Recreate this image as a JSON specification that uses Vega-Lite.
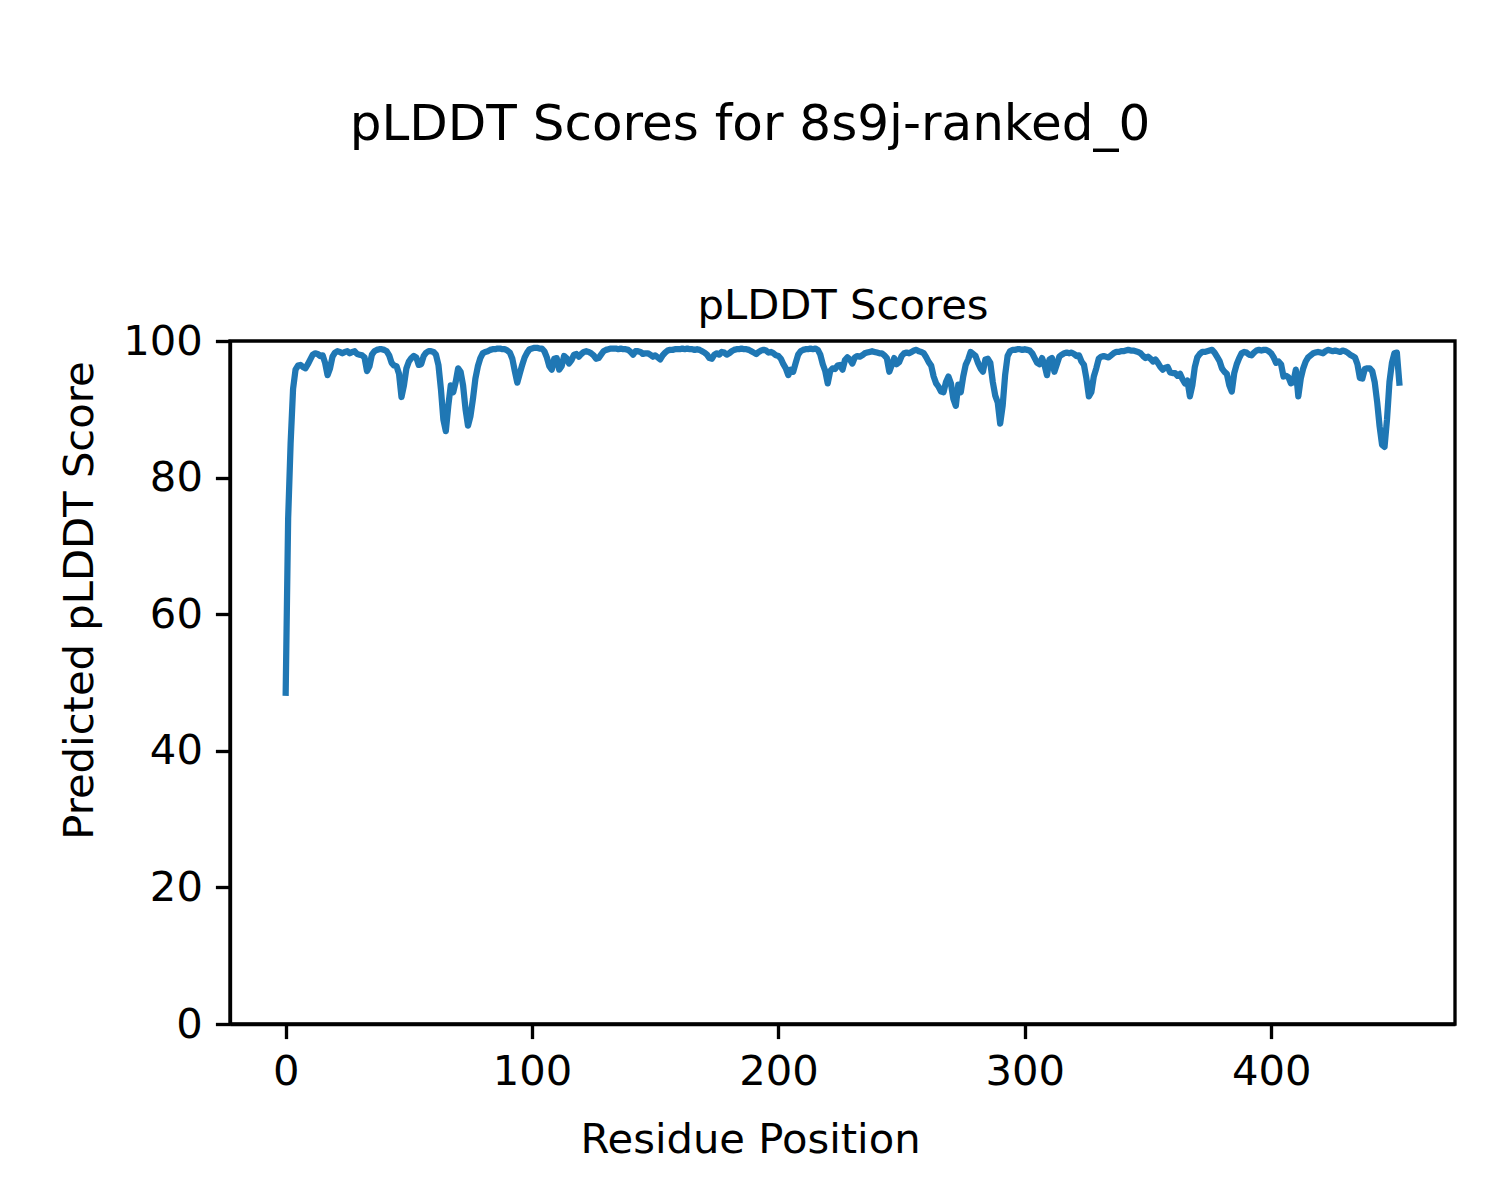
{
"$schema": "https://vega.github.io/schema/vega-lite/v6.json",
"width": 1225, "height": 683,
"autosize": "none",
"padding": {"left": 230, "top": 341, "right": 45, "bottom": 176},
"background": "white",
"title": {"text": "pLDDT Scores for 8s9j-ranked_0", "anchor": "middle", "dx": -92.5, "fontSize": 50, "font": "DejaVu Sans", "fontWeight": "normal", "color": "black", "baseline": "alphabetic", "offset": 95},
"config": {
 "view": {"stroke": "black", "strokeWidth": 3.33},
 "axis": {"labelFont": "DejaVu Sans", "labelFontSize": 41.7, "labelColor": "black", "titleFont": "DejaVu Sans", "titleFontSize": 41.7, "titleFontWeight": "normal", "titleColor": "black", "tickColor": "black", "tickWidth": 3.33, "tickSize": 14.6, "domainColor": "black", "domainWidth": 3.33, "grid": false, "labelFlush": false, "labelOverlap": false}
},
"data": {"values": [
{"x":0,"y":48.5},{"x":1,"y":74},{"x":2,"y":85},{"x":3,"y":93},{"x":4,"y":95.8},{"x":5,"y":96.4},{"x":6,"y":96.5},{"x":7,"y":96.2},{"x":8,"y":96.0},{"x":9,"y":96.6},
{"x":10,"y":97.3},{"x":11,"y":98.0},{"x":12,"y":98.2},{"x":13,"y":98.1},{"x":14,"y":97.8},{"x":15,"y":97.9},{"x":16,"y":96.8},{"x":17,"y":95.0},{"x":18,"y":96.0},{"x":19,"y":97.7},
{"x":20,"y":98.3},{"x":21,"y":98.5},{"x":22,"y":98.4},{"x":23,"y":98.2},{"x":24,"y":98.4},{"x":25,"y":98.5},{"x":26,"y":98.2},{"x":27,"y":98.4},{"x":28,"y":98.5},{"x":29,"y":98.1},
{"x":30,"y":98.0},{"x":31,"y":97.9},{"x":32,"y":97.6},{"x":33,"y":95.6},{"x":34,"y":96.3},{"x":35,"y":98.0},{"x":36,"y":98.5},{"x":37,"y":98.7},{"x":38,"y":98.8},{"x":39,"y":98.8},
{"x":40,"y":98.7},{"x":41,"y":98.5},{"x":42,"y":97.9},{"x":43,"y":96.8},{"x":44,"y":96.4},{"x":45,"y":96.3},{"x":46,"y":95.2},{"x":47,"y":91.8},{"x":48,"y":93.5},{"x":49,"y":96.0},
{"x":50,"y":97.0},{"x":51,"y":97.5},{"x":52,"y":97.8},{"x":53,"y":97.6},{"x":54,"y":96.5},{"x":55,"y":96.6},{"x":56,"y":97.8},{"x":57,"y":98.3},{"x":58,"y":98.5},{"x":59,"y":98.5},
{"x":60,"y":98.4},{"x":61,"y":98.0},{"x":62,"y":96.5},{"x":63,"y":93.0},{"x":64,"y":88.5},{"x":65,"y":86.8},{"x":66,"y":90.5},{"x":67,"y":93.5},{"x":68,"y":92.5},{"x":69,"y":94.0},
{"x":70,"y":96.0},{"x":71,"y":95.5},{"x":72,"y":93.5},{"x":73,"y":90.0},{"x":74,"y":87.6},{"x":75,"y":89.0},{"x":76,"y":91.5},{"x":77,"y":94.5},{"x":78,"y":96.3},{"x":79,"y":97.5},
{"x":80,"y":98.2},{"x":81,"y":98.4},{"x":82,"y":98.5},{"x":83,"y":98.7},{"x":84,"y":98.8},{"x":85,"y":98.8},{"x":86,"y":98.9},{"x":87,"y":98.9},{"x":88,"y":98.8},{"x":89,"y":98.8},
{"x":90,"y":98.6},{"x":91,"y":98.3},{"x":92,"y":97.4},{"x":93,"y":95.6},{"x":94,"y":93.9},{"x":95,"y":95.2},{"x":96,"y":96.5},{"x":97,"y":97.6},{"x":98,"y":98.3},{"x":99,"y":98.8},
{"x":100,"y":98.9},{"x":101,"y":99.0},{"x":102,"y":99.0},{"x":103,"y":98.9},{"x":104,"y":98.9},{"x":105,"y":98.5},{"x":106,"y":97.6},{"x":107,"y":96.3},{"x":108,"y":95.8},{"x":109,"y":97.4},
{"x":110,"y":97.5},{"x":111,"y":95.8},{"x":112,"y":96.3},{"x":113,"y":97.8},{"x":114,"y":97.5},{"x":115,"y":96.7},{"x":116,"y":97.2},{"x":117,"y":98.0},{"x":118,"y":98.1},{"x":119,"y":97.7},
{"x":120,"y":98.1},{"x":121,"y":98.4},{"x":122,"y":98.5},{"x":123,"y":98.4},{"x":124,"y":98.2},{"x":125,"y":97.9},{"x":126,"y":97.4},{"x":127,"y":97.5},{"x":128,"y":98.0},{"x":129,"y":98.5},
{"x":130,"y":98.7},{"x":131,"y":98.8},{"x":132,"y":98.9},{"x":133,"y":98.9},{"x":134,"y":98.9},{"x":135,"y":98.8},{"x":136,"y":98.9},{"x":137,"y":98.8},{"x":138,"y":98.8},{"x":139,"y":98.7},
{"x":140,"y":98.4},{"x":141,"y":98.0},{"x":142,"y":98.5},{"x":143,"y":98.5},{"x":144,"y":98.4},{"x":145,"y":98.1},{"x":146,"y":98.2},{"x":147,"y":98.2},{"x":148,"y":98.0},{"x":149,"y":97.7},
{"x":150,"y":97.9},{"x":151,"y":97.6},{"x":152,"y":97.3},{"x":153,"y":97.9},{"x":154,"y":98.3},{"x":155,"y":98.6},{"x":156,"y":98.7},{"x":157,"y":98.7},{"x":158,"y":98.8},{"x":159,"y":98.8},
{"x":160,"y":98.8},{"x":161,"y":98.9},{"x":162,"y":98.8},{"x":163,"y":98.9},{"x":164,"y":98.8},{"x":165,"y":98.8},{"x":166,"y":98.7},{"x":167,"y":98.8},{"x":168,"y":98.7},{"x":169,"y":98.5},
{"x":170,"y":98.3},{"x":171,"y":98.0},{"x":172,"y":97.5},{"x":173,"y":97.4},{"x":174,"y":98.0},{"x":175,"y":98.2},{"x":176,"y":98.0},{"x":177,"y":98.4},{"x":178,"y":98.3},{"x":179,"y":98.0},
{"x":180,"y":98.2},{"x":181,"y":98.5},{"x":182,"y":98.7},{"x":183,"y":98.8},{"x":184,"y":98.8},{"x":185,"y":98.9},{"x":186,"y":98.8},{"x":187,"y":98.8},{"x":188,"y":98.7},{"x":189,"y":98.5},
{"x":190,"y":98.3},{"x":191,"y":98.1},{"x":192,"y":98.4},{"x":193,"y":98.6},{"x":194,"y":98.7},{"x":195,"y":98.6},{"x":196,"y":98.3},{"x":197,"y":98.4},{"x":198,"y":98.2},{"x":199,"y":97.9},
{"x":200,"y":97.8},{"x":201,"y":97.4},{"x":202,"y":96.6},{"x":203,"y":96.0},{"x":204,"y":95.0},{"x":205,"y":95.8},{"x":206,"y":95.5},{"x":207,"y":96.8},{"x":208,"y":98.0},{"x":209,"y":98.5},
{"x":210,"y":98.7},{"x":211,"y":98.8},{"x":212,"y":98.8},{"x":213,"y":98.9},{"x":214,"y":98.8},{"x":215,"y":98.9},{"x":216,"y":98.7},{"x":217,"y":98.0},{"x":218,"y":96.6},{"x":219,"y":95.6},
{"x":220,"y":93.8},{"x":221,"y":95.6},{"x":222,"y":96.0},{"x":223,"y":95.9},{"x":224,"y":96.4},{"x":225,"y":96.5},{"x":226,"y":95.8},{"x":227,"y":97.2},{"x":228,"y":97.6},{"x":229,"y":97.3},
{"x":230,"y":96.7},{"x":231,"y":97.6},{"x":232,"y":97.8},{"x":233,"y":97.7},{"x":234,"y":97.9},{"x":235,"y":98.2},{"x":236,"y":98.3},{"x":237,"y":98.4},{"x":238,"y":98.5},{"x":239,"y":98.4},
{"x":240,"y":98.3},{"x":241,"y":98.2},{"x":242,"y":98.2},{"x":243,"y":97.9},{"x":244,"y":97.5},{"x":245,"y":95.5},{"x":246,"y":96.5},{"x":247,"y":97.5},{"x":248,"y":96.6},{"x":249,"y":96.9},
{"x":250,"y":97.8},{"x":251,"y":98.2},{"x":252,"y":98.3},{"x":253,"y":98.2},{"x":254,"y":98.4},{"x":255,"y":98.6},{"x":256,"y":98.7},{"x":257,"y":98.5},{"x":258,"y":98.4},{"x":259,"y":98.2},
{"x":260,"y":97.6},{"x":261,"y":96.9},{"x":262,"y":96.4},{"x":263,"y":94.8},{"x":264,"y":93.8},{"x":265,"y":93.3},{"x":266,"y":92.6},{"x":267,"y":92.5},{"x":268,"y":94.0},{"x":269,"y":94.8},
{"x":270,"y":93.8},{"x":271,"y":91.5},{"x":272,"y":90.5},{"x":273,"y":93.6},{"x":274,"y":92.5},{"x":275,"y":94.8},{"x":276,"y":96.5},{"x":277,"y":97.3},{"x":278,"y":98.4},{"x":279,"y":98.1},
{"x":280,"y":97.8},{"x":281,"y":96.8},{"x":282,"y":96.0},{"x":283,"y":95.5},{"x":284,"y":97.3},{"x":285,"y":97.4},{"x":286,"y":96.8},{"x":287,"y":94.0},{"x":288,"y":92.0},{"x":289,"y":91.0},
{"x":290,"y":87.9},{"x":291,"y":90.5},{"x":292,"y":95.0},{"x":293,"y":97.8},{"x":294,"y":98.5},{"x":295,"y":98.7},{"x":296,"y":98.7},{"x":297,"y":98.8},{"x":298,"y":98.8},{"x":299,"y":98.7},
{"x":300,"y":98.8},{"x":301,"y":98.7},{"x":302,"y":98.6},{"x":303,"y":98.2},{"x":304,"y":97.5},{"x":305,"y":96.8},{"x":306,"y":96.6},{"x":307,"y":97.5},{"x":308,"y":96.5},{"x":309,"y":95.0},
{"x":310,"y":97.3},{"x":311,"y":97.5},{"x":312,"y":95.5},{"x":313,"y":96.6},{"x":314,"y":97.7},{"x":315,"y":98.0},{"x":316,"y":98.2},{"x":317,"y":98.3},{"x":318,"y":98.2},{"x":319,"y":98.3},
{"x":320,"y":98.1},{"x":321,"y":97.8},{"x":322,"y":97.9},{"x":323,"y":97.0},{"x":324,"y":96.5},{"x":325,"y":94.5},{"x":326,"y":91.9},{"x":327,"y":92.5},{"x":328,"y":94.8},{"x":329,"y":96.0},
{"x":330,"y":97.4},{"x":331,"y":97.7},{"x":332,"y":97.8},{"x":333,"y":97.7},{"x":334,"y":97.6},{"x":335,"y":97.9},{"x":336,"y":98.2},{"x":337,"y":98.4},{"x":338,"y":98.4},{"x":339,"y":98.5},
{"x":340,"y":98.5},{"x":341,"y":98.6},{"x":342,"y":98.7},{"x":343,"y":98.6},{"x":344,"y":98.6},{"x":345,"y":98.5},{"x":346,"y":98.4},{"x":347,"y":98.2},{"x":348,"y":97.8},{"x":349,"y":97.5},
{"x":350,"y":97.7},{"x":351,"y":97.4},{"x":352,"y":97.0},{"x":353,"y":97.3},{"x":354,"y":96.8},{"x":355,"y":96.2},{"x":356,"y":95.8},{"x":357,"y":96.1},{"x":358,"y":96.2},{"x":359,"y":95.4},
{"x":360,"y":95.3},{"x":361,"y":95.3},{"x":362,"y":94.9},{"x":363,"y":95.2},{"x":364,"y":94.4},{"x":365,"y":93.8},{"x":366,"y":94.2},{"x":367,"y":91.9},{"x":368,"y":93.5},{"x":369,"y":96.2},
{"x":370,"y":97.6},{"x":371,"y":98.1},{"x":372,"y":98.4},{"x":373,"y":98.4},{"x":374,"y":98.5},{"x":375,"y":98.6},{"x":376,"y":98.7},{"x":377,"y":98.3},{"x":378,"y":97.7},{"x":379,"y":97.1},
{"x":380,"y":96.0},{"x":381,"y":95.5},{"x":382,"y":95.2},{"x":383,"y":93.5},{"x":384,"y":92.6},{"x":385,"y":95.3},{"x":386,"y":96.6},{"x":387,"y":97.5},{"x":388,"y":98.2},{"x":389,"y":98.4},
{"x":390,"y":98.3},{"x":391,"y":98.0},{"x":392,"y":97.9},{"x":393,"y":98.3},{"x":394,"y":98.6},{"x":395,"y":98.7},{"x":396,"y":98.6},{"x":397,"y":98.7},{"x":398,"y":98.7},{"x":399,"y":98.5},
{"x":400,"y":98.2},{"x":401,"y":97.6},{"x":402,"y":96.8},{"x":403,"y":97.0},{"x":404,"y":96.6},{"x":405,"y":94.8},{"x":406,"y":94.9},{"x":407,"y":94.7},{"x":408,"y":93.8},{"x":409,"y":94.0},
{"x":410,"y":95.8},{"x":411,"y":91.9},{"x":412,"y":94.5},{"x":413,"y":96.0},{"x":414,"y":97.0},{"x":415,"y":97.6},{"x":416,"y":97.9},{"x":417,"y":98.2},{"x":418,"y":98.3},{"x":419,"y":98.4},
{"x":420,"y":98.3},{"x":421,"y":98.2},{"x":422,"y":98.5},{"x":423,"y":98.7},{"x":424,"y":98.6},{"x":425,"y":98.5},{"x":426,"y":98.6},{"x":427,"y":98.5},{"x":428,"y":98.4},{"x":429,"y":98.6},
{"x":430,"y":98.5},{"x":431,"y":98.3},{"x":432,"y":98.0},{"x":433,"y":97.8},{"x":434,"y":97.6},{"x":435,"y":96.6},{"x":436,"y":94.6},{"x":437,"y":94.5},{"x":438,"y":95.9},{"x":439,"y":96.0},
{"x":440,"y":96.0},{"x":441,"y":95.6},{"x":442,"y":94.0},{"x":443,"y":91.1},{"x":444,"y":87.5},{"x":445,"y":84.8},{"x":446,"y":84.5},{"x":447,"y":88.5},{"x":448,"y":94.0},{"x":449,"y":96.8},
{"x":450,"y":98.2},{"x":451,"y":98.3},{"x":452,"y":93.9}
]},
"encoding": {
 "y": {"field": "y", "type": "quantitative", "scale": {"domain": [0, 100], "nice": false},
       "axis": {"values": [0,20,40,60,80,100], "title": "Predicted pLDDT Score", "titleX": -138, "titleY": 259, "titleAngle": 270, "titleAlign": "center", "titleBaseline": "alphabetic", "labelPadding": 13}}
},
"layer": [
 {"mark": {"type": "line", "color": "#1f77b4", "strokeWidth": 6.25, "strokeCap": "square", "strokeJoin": "round"},
  "encoding": {
   "x": {"field": "x", "type": "quantitative", "scale": {"domain": [-22.6, 474.6], "nice": false, "zero": false},
         "axis": {"orient": "bottom", "values": [0,100,200,300,400], "title": "Residue Position", "titleX": 520, "titleY": 128, "titleAlign": "center", "titleBaseline": "alphabetic", "labelPadding": 13}}
  }},
 {"mark": {"type": "line", "opacity": 0},
  "encoding": {
   "x": {"field": "x", "type": "quantitative", "scale": {"domain": [-22.6, 474.6], "nice": false, "zero": false},
         "axis": {"orient": "top", "title": "pLDDT Scores", "labels": false, "ticks": false, "domain": false, "titleY": -23, "titleAlign": "center", "titleBaseline": "alphabetic"}}
  }}
],
"resolve": {"axis": {"x": "independent"}}
}
